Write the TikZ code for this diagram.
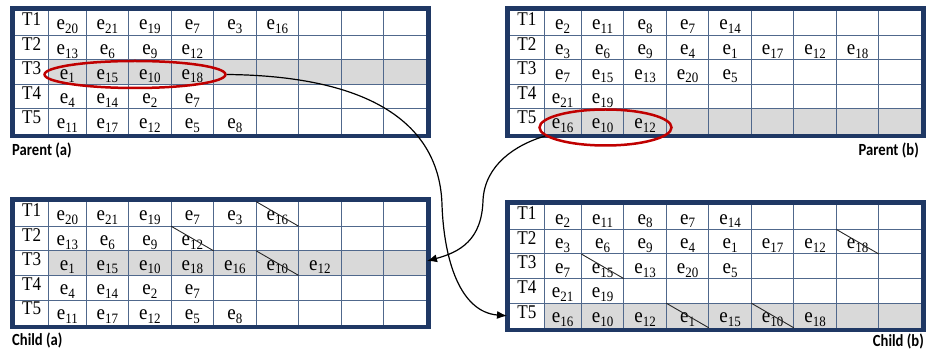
\documentclass[tikz,border=0pt]{standalone}
\usepackage{fontspec}
\setmainfont{Liberation Serif}
\newfontfamily\captionfont{Carlito}
\usetikzlibrary{arrows.meta,shapes.geometric}

\definecolor{framenavy}{HTML}{1F3864}
\definecolor{gridblue}{HTML}{50688C}
\definecolor{rowgrey}{HTML}{D9D9D9}
\definecolor{ringred}{HTML}{C00000}

% gene label e_k, set slightly tall
\newcommand\ee[1]{\scalebox{1}[1.1]{e\raisebox{-3.5pt}{\fontsize{13}{13}\selectfont #1}}}
% row label, set slightly tall
\newcommand\tname[1]{\scalebox{0.95}[1.08]{#1}}

\tikzset{
  gridline/.style={draw=gridblue, line width=1pt},
  tableframe/.style={draw=framenavy, line width=4.5pt, rectangle, inner sep=0pt, outer sep=0pt,
    minimum width=416.1pt, minimum height=127.5pt},
  tlabel/.style={anchor=base, inner sep=0pt, font=\fontsize{18}{18}\selectfont},
  elabel/.style={anchor=base, inner sep=0pt, font=\fontsize{19}{19}\selectfont},
  caption/.style={inner sep=0pt, font=\captionfont\bfseries\fontsize{17}{17}\selectfont},
  ring/.style={draw=ringred, line width=2.5pt, ellipse, inner sep=0pt},
  link/.style={draw=black, line width=1.2pt, -{Latex[length=10pt,width=8pt]}},
  strike/.style={draw=black!85, line width=0.9pt},
}

% table: name, left, top, shaded row, rows of entries
\newcommand\gridtab[5]{%
  \begin{scope}[shift={(#2,#3)}]
    \fill[rowgrey] (34.3,{(#4-1)*24.6}) rectangle (411.6,{#4*24.6});
    \foreach \gx in {34.3,71.6,114.1,156.6,199.1,241.6,284.1,326.6,369.1}
      \draw[gridline] (\gx,0) -- (\gx,123);
    \foreach \gy in {24.6,49.2,73.8,98.4}
      \draw[gridline] (0,\gy) -- (411.6,\gy);
    \foreach \row [count=\r] in {#5} {
      \node[tlabel] (#1-\r-0) at (17.15,{(\r-1)*24.6+15}) {\tname{T\r}};
      \foreach \v [count=\c] in \row {
        \pgfmathsetmacro\cx{\c==1 ? 52.95 : 92.85+(\c-2)*42.5}
        \node[elabel] (#1-\r-\c) at (\cx,{(\r-1)*24.6+19.3}) {\ee{\v}};
      }
    }
  \end{scope}
  \node[tableframe] (#1) at ({#2+205.8},{#3+61.5}) {};
}

% crossed-out cell: left, top, row, column
\newcommand\strikecell[4]{%
  \pgfmathsetmacro\stkxa{#1+(#4==1 ? 34.3 : 71.6+(#4-2)*42.5)}
  \pgfmathsetmacro\stkxb{\stkxa+(#4==1 ? 37.3 : 42.5)}
  \pgfmathsetmacro\stkya{#2+(#3-1)*24.6}
  \pgfmathsetmacro\stkyb{\stkya+24.6}
  \draw[strike] (\stkxa,\stkya) -- (\stkxb,\stkyb);%
}

\begin{document}
\begin{tikzpicture}[x=1pt,y=-1pt]
\useasboundingbox (0,0) rectangle (926,355);

% parents
\gridtab{pa}{14.5}{10.6}{3}{{20,21,19,7,3,16},{13,6,9,12},{1,15,10,18},{4,14,2,7},{11,17,12,5,8}}
\gridtab{pb}{509.7}{10.6}{5}{{2,11,8,7,14},{3,6,9,4,1,17,12,18},{7,15,13,20,5},{21,19},{16,10,12}}

% children
\gridtab{ca}{14.5}{201.6}{3}{{20,21,19,7,3,16},{13,6,9,12},{1,15,10,18,16,10,12},{4,14,2,7},{11,17,12,5,8}}
\gridtab{cb}{509.7}{204.8}{5}{{2,11,8,7,14},{3,6,9,4,1,17,12,18},{7,15,13,20,5},{21,19},{16,10,12,1,15,10,18}}

% removed duplicates
\strikecell{14.5}{201.6}{1}{6}
\strikecell{14.5}{201.6}{2}{4}
\strikecell{14.5}{201.6}{3}{6}
\strikecell{509.7}{204.8}{2}{8}
\strikecell{509.7}{204.8}{3}{2}
\strikecell{509.7}{204.8}{5}{4}
\strikecell{509.7}{204.8}{5}{6}

% captions
\node[caption, anchor=base west] (lpa) at (12,156) {\scalebox{0.86}[1]{Parent (a)}};
\node[caption, anchor=base east] (lpb) at (919,156) {\scalebox{0.86}[1]{Parent (b)}};
\node[caption, anchor=base west] (lca) at (12,345) {\scalebox{0.86}[1]{Child (a)}};
\node[caption, anchor=base east] (lcb) at (924,346) {\scalebox{0.86}[1]{Child (b)}};

% selected segments
\node[ring, minimum width=181pt, minimum height=27pt] (ra) at (135,74.5) {};
\node[ring, minimum width=132pt, minimum height=36pt] (rb) at (605.5,127.5) {};

% insertion points
\coordinate (cb-in) at (507,315.8);
\coordinate (ca-in) at (427,261);

\draw[link] (ra.east) .. controls (380,76) and (440,130) .. (442,205)
  .. controls (444,260) and (460,312) .. (cb-in);
\draw[link] (rb.188) .. controls (515,145) and (485,165) .. (483,200)
  .. controls (482,240) and (460,252) .. (ca-in);
\end{tikzpicture}
\end{document}
